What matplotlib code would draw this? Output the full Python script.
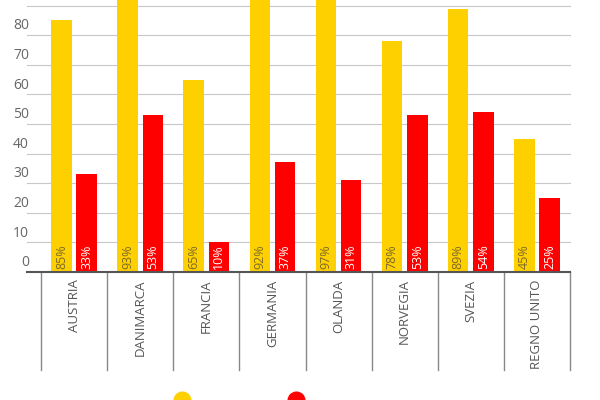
import matplotlib.pyplot as plt
from matplotlib.lines import Line2D

countries = ["AUSTRIA", "DANIMARCA", "FRANCIA", "GERMANIA", "OLANDA", "NORVEGIA", "SVEZIA", "REGNO UNITO"]
yellow_vals = [85, 93, 65, 92, 97, 78, 89, 45]
red_vals = [33, 53, 10, 37, 31, 53, 54, 25]

plt.rcParams["font.family"] = ["Open Sans", "DejaVu Sans"]

fig = plt.figure(figsize=(6, 4), dpi=100)
ax = fig.add_axes([41 / 600, 1 - 272 / 400, 529 / 600, 296 / 400])
ax.set_xlim(0, len(countries))
ax.set_ylim(0, 100)

w = 0.31
for i, (yv, rv) in enumerate(zip(yellow_vals, red_vals)):
    c = i + 0.5
    ax.bar(c - 0.19, yv, w, color="#FFD000", zorder=3)
    ax.bar(c + 0.19, rv, w, color="#FF0000", zorder=3)
    ax.text(c - 0.19, 1, f"{yv}%", rotation=90, ha="center", va="bottom", fontsize=9, color="#7a6a2a", zorder=4)
    ax.text(c + 0.19, 1, f"{rv}%", rotation=90, ha="center", va="bottom", fontsize=9, color="white", zorder=4)

for v in range(10, 101, 10):
    ax.plot([-14 / 66, len(countries)], [v, v], color="#c8c8c8", lw=0.8, zorder=1, clip_on=False)
ax.plot([-14 / 66, len(countries)], [0, 0], color="#555555", lw=1.5, zorder=5, clip_on=False)

for v in range(0, 91, 10):
    ax.text(-0.18, v + 0.6, str(v), ha="right", va="bottom", fontsize=10, color="#666666")

for k in range(len(countries) + 1):
    ax.plot([k, k], [0, -33], color="#888888", lw=1, clip_on=False)
for i, name in enumerate(countries):
    ax.text(i + 0.5, -2.5, name, rotation=90, ha="center", va="top", fontsize=9.5, color="#555555")

for s in ax.spines.values():
    s.set_visible(False)
ax.set_xticks([])
ax.set_yticks([])

fig.add_artist(Line2D([182 / 600], [0.0], marker="o", markersize=12, color="#FFD000", transform=fig.transFigure))
fig.add_artist(Line2D([296 / 600], [0.0], marker="o", markersize=12, color="#FF0000", transform=fig.transFigure))

fig.savefig("out.png", dpi=100)
